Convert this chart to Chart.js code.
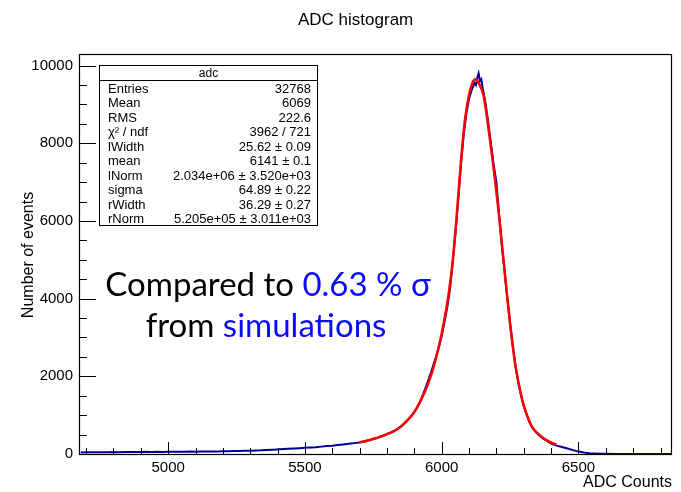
<!DOCTYPE html>
<html>
<head>
<meta charset="utf-8">
<title>ADC histogram</title>
<script src="https://cdn.jsdelivr.net/npm/chart.js@4.4.0/dist/chart.umd.min.js"></script>
<style>
  html, body { margin: 0; padding: 0; background: #fff; }
  #wrap { width: 681px; height: 492px; }
</style>
</head>
<body>
<div id="wrap"><canvas id="chartADC" width="681" height="492"></canvas></div>
<script>
// histogram: bin centre (ADC counts) and number of events
const adcBins = [
  4680, 4700, 4720, 4740, 4760, 4780, 4800, 4820, 4840, 4860, 4880, 4900, 4920, 4940, 4960, 4980,
  5000, 5020, 5040, 5060, 5080, 5100, 5120, 5140, 5160, 5180, 5200, 5220, 5240, 5260, 5280, 5300,
  5320, 5340, 5360, 5380, 5400, 5420, 5440, 5460, 5480, 5500, 5520, 5540, 5560, 5580, 5600, 5620,
  5640, 5660, 5680,
  5700, 5710, 5720, 5730, 5740, 5750, 5760, 5770, 5780, 5790, 5800, 5810, 5820, 5830, 5840, 5850,
  5860, 5870, 5880, 5890, 5900, 5910, 5920, 5930, 5940, 5950, 5960, 5970, 5980, 5990, 6000, 6010,
  6020, 6030, 6040, 6050, 6060, 6070, 6080, 6090, 6100, 6110, 6120, 6125, 6130, 6135, 6140, 6145,
  6150, 6160, 6170, 6180, 6190, 6200, 6210, 6220, 6230, 6240, 6250, 6260, 6270, 6280, 6290, 6300,
  6310, 6320, 6330, 6340, 6350, 6360, 6370, 6380, 6390, 6400, 6410, 6420,
  6440, 6460, 6480, 6500, 6520, 6540, 6560, 6580, 6600, 6650, 6700, 6750, 6800, 6840
];
const adcCounts = [
  40, 45, 42, 48, 44, 46, 50, 47, 52, 49, 53, 51, 55, 52, 56, 54,
  57, 55, 59, 58, 62, 60, 64, 63, 67, 66, 70, 72, 75, 78, 82, 86,
  92, 96, 104, 110, 118, 126, 134, 142, 150, 158, 165, 175, 190, 205, 215, 230,
  245, 262, 280,
  295, 310, 322, 350, 362, 395, 405, 428, 462, 478, 515, 540, 575, 610, 650, 705,
  760, 825, 905, 985, 1085, 1200, 1340, 1500, 1690, 1880, 2080, 2300, 2530, 2760, 3040, 3390,
  3760, 4230, 4900, 5650, 6500, 7400, 8200, 8750, 9150, 9380, 9550, 9500, 9680, 9800, 9600, 9650,
  9420, 9050, 8550, 8000, 7450, 7000, 6150, 5350, 4700, 4000, 3350, 2800, 2250, 1850, 1520, 1250,
  1020, 830, 700, 600, 520, 455, 400, 355, 310, 270, 240, 215,
  180, 140, 100, 62, 36, 20, 12, 7, 4, 2, 1, 0, 0, 0
];

// fitted curve (red)
const fitAdc = [5700, 5725, 5750, 5775, 5800, 5825, 5850, 5875, 5900, 5925, 5950, 5975, 6000, 6025,
  6040, 6055, 6070, 6085, 6100, 6112, 6123, 6135, 6153, 6171, 6196, 6214, 6233, 6251, 6269, 6294,
  6312, 6330, 6350, 6370, 6390, 6410, 6420];
const fitValues = [300, 340, 385, 440, 510, 590, 700, 870, 1080, 1400, 1800, 2350, 3100, 4100,
  4950, 6150, 7500, 8600, 9250, 9550, 9650, 9550, 9230, 8380, 7000, 5850, 4500, 3300, 2300, 1400,
  1000, 700, 540, 420, 330, 265, 240];

const xTicks = [5000, 5500, 6000, 6500];
const yTicks = [0, 2000, 4000, 6000, 8000, 10000];

// statistics box
const statNames = ["Entries", "Mean", "RMS", "\u03C7\u00B2 / ndf", "lWidth", "mean", "lNorm", "sigma", "rWidth", "rNorm"];
const statValues = ["32768", "6069", "222.6", "3962 / 721", "25.62 \u00B1 0.09", "6141 \u00B1 0.1",
  "2.034e+06 \u00B1 3.520e+03", "64.89 \u00B1 0.22", "36.29 \u00B1 0.27", "5.205e+05 \u00B1 3.011e+03"];

const FONT = "'Liberation Sans', Arial, sans-serif";

// frame, inner ticks, titles, stats box and note
const rootStyle = {
  id: 'rootStyle',
  afterDraw(chart) {
    const ctx = chart.ctx;
    const a = chart.chartArea;
    const xs = chart.scales.x, ys = chart.scales.y;
    ctx.save();

    // ticks inside the frame
    ctx.strokeStyle = '#000';
    ctx.lineWidth = 1;
    ctx.beginPath();
    for (let v = 4700; v <= 6800; v += 100) {
      const px = Math.round(xs.getPixelForValue(v)) + 0.5;
      const len = v % 500 === 0 ? 12 : 6;
      ctx.moveTo(px, a.bottom);
      ctx.lineTo(px, a.bottom - len);
    }
    for (let v = 0; v <= 10000; v += 500) {
      const py = Math.round(ys.getPixelForValue(v)) + 0.5;
      const len = v % 2000 === 0 ? 17 : 8;
      ctx.moveTo(a.left, py);
      ctx.lineTo(a.left + len, py);
    }
    ctx.stroke();

    // frame
    ctx.lineWidth = 1.2;
    ctx.strokeRect(a.left + 0.5, a.top + 0.5, a.right - a.left - 1, a.bottom - a.top);

    // title
    ctx.fillStyle = '#000';
    ctx.font = '17px ' + FONT;
    ctx.textAlign = 'left';
    ctx.textBaseline = 'alphabetic';
    ctx.fillText('ADC histogram', 298, 25);

    // axis titles
    ctx.font = '16px ' + FONT;
    ctx.textAlign = 'right';
    ctx.fillText('ADC Counts', 672, 487);
    ctx.save();
    ctx.translate(33, 255);
    ctx.rotate(-Math.PI / 2);
    ctx.textAlign = 'center';
    ctx.fillText('Number of events', 0, 0);
    ctx.restore();

    // stats box
    const bx = 99.5, by = 65.5, bw = 218, bh = 160;
    ctx.fillStyle = '#fff';
    ctx.fillRect(bx, by, bw, bh);
    ctx.strokeStyle = '#000';
    ctx.lineWidth = 1;
    ctx.strokeRect(bx, by, bw, bh);
    ctx.beginPath();
    ctx.moveTo(bx, 80.5);
    ctx.lineTo(bx + bw, 80.5);
    ctx.stroke();
    ctx.fillStyle = '#000';
    ctx.font = '12px ' + FONT;
    ctx.textAlign = 'center';
    ctx.fillText('adc', bx + bw / 2, 77);
    ctx.font = '13px ' + FONT;
    statNames.forEach((n, i) => {
      const yb = 93 + i * 14.45;
      ctx.textAlign = 'left';
      ctx.fillText(n, 108, yb);
      ctx.textAlign = 'right';
      ctx.fillText(statValues[i], 311, yb);
    });

    // note
    ctx.font = '33px Lato, sans-serif';
    drawParts(ctx, [['Compared to ', '#000'], ['0.63 % \u03C3', '#0a0aff']], 268, 296);
    drawParts(ctx, [['from ', '#000'], ['simulations', '#0a0aff']], 266, 337);

    ctx.restore();
  }
};

function drawParts(ctx, parts, cx, y) {
  const total = parts.reduce((s, p) => s + ctx.measureText(p[0]).width, 0);
  let x = cx - total / 2;
  ctx.textAlign = 'left';
  parts.forEach(p => {
    ctx.fillStyle = p[1];
    ctx.fillText(p[0], x, y);
    x += ctx.measureText(p[0]).width;
  });
}

let ctxADC = document.getElementById("chartADC").getContext("2d");
let graficoADC = new Chart(ctxADC, {
  type: 'line',
  data: {
    datasets: [
      {
        label: 'adc',
        data: adcBins.map((b, i) => ({ x: b, y: adcCounts[i] })),
        borderColor: 'rgb(0, 0, 150)',
        borderWidth: 2,
        pointRadius: 0,
        tension: 0,
        order: 1
      },
      {
        label: 'fit',
        data: fitAdc.map((b, i) => ({ x: b, y: fitValues[i] })),
        borderColor: 'rgb(255, 0, 0)',
        borderWidth: 2.5,
        pointRadius: 0,
        cubicInterpolationMode: 'monotone',
        order: 0
      }
    ]
  },
  options: {
    responsive: false,
    animation: false,
    layout: { padding: { top: 54, right: 9, left: 0, bottom: 0 } },
    plugins: { legend: { display: false }, tooltip: { enabled: false } },
    scales: {
      x: {
        type: 'linear',
        min: 4674,
        max: 6842,
        grid: { display: false, drawTicks: false },
        border: { display: false },
        ticks: { color: '#000', font: { family: FONT, size: 15 }, padding: 5, maxRotation: 0, callback: v => String(v) },
        afterBuildTicks: s => { s.ticks = xTicks.map(v => ({ value: v })); },
        afterFit: s => { s.height = 38; }
      },
      y: {
        type: 'linear',
        min: 0,
        max: 10300,
        grid: { display: false, drawTicks: false },
        border: { display: false },
        ticks: { color: '#000', font: { family: FONT, size: 15 }, padding: 6, callback: v => String(v) },
        afterBuildTicks: s => { s.ticks = yTicks.map(v => ({ value: v })); },
        afterFit: s => { s.width = 79; }
      }
    }
  },
  plugins: [rootStyle]
});
</script>
</body>
</html>
